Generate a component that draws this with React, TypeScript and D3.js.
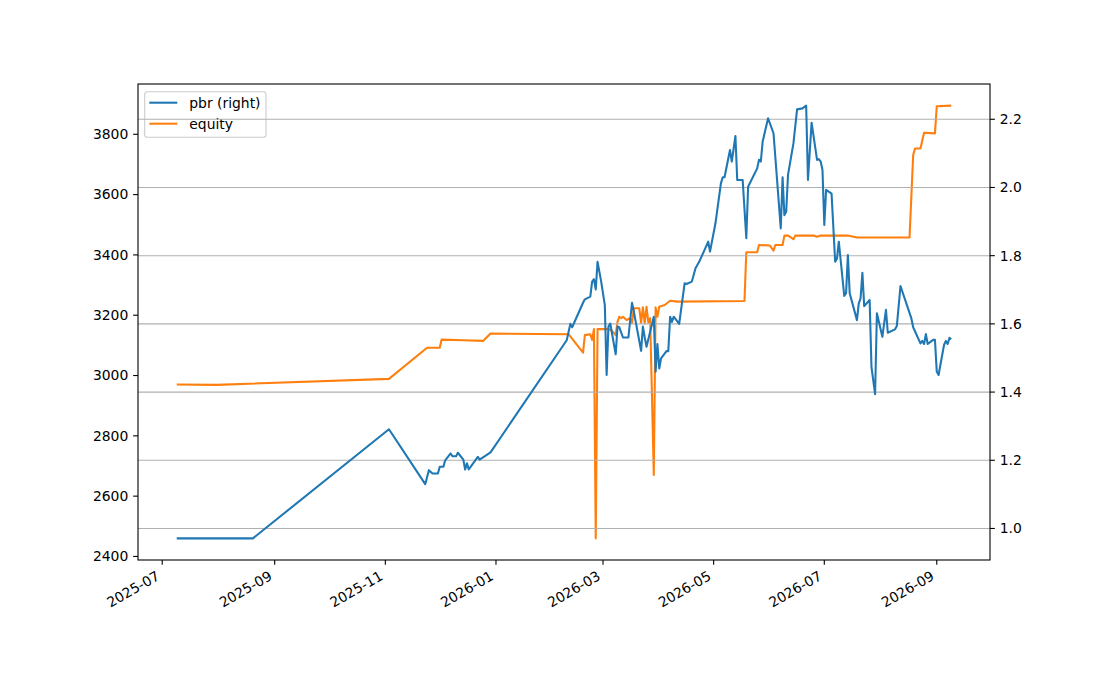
import * as d3 from "d3";

const pbrDates = [
  "2025-07-09", "2025-08-20", "2025-11-03", "2025-11-23", "2025-11-25", "2025-11-27",
  "2025-11-30", "2025-12-01", "2025-12-03", "2025-12-04", "2025-12-07", "2025-12-08",
  "2025-12-10", "2025-12-11", "2025-12-14", "2025-12-15", "2025-12-16", "2025-12-17",
  "2025-12-22", "2025-12-23", "2025-12-29", "2026-02-09", "2026-02-11", "2026-02-12",
  "2026-02-18", "2026-02-19", "2026-02-22", "2026-02-23", "2026-02-24", "2026-02-25",
  "2026-02-26", "2026-02-28", "2026-03-02", "2026-03-03", "2026-03-04", "2026-03-05",
  "2026-03-08", "2026-03-09", "2026-03-10", "2026-03-12", "2026-03-15", "2026-03-17",
  "2026-03-18", "2026-03-22", "2026-03-23", "2026-03-24", "2026-03-25", "2026-03-29",
  "2026-03-30", "2026-03-31", "2026-04-01", "2026-04-02", "2026-04-05", "2026-04-06",
  "2026-04-07", "2026-04-08", "2026-04-09", "2026-04-12", "2026-04-15", "2026-04-16",
  "2026-04-19", "2026-04-21", "2026-04-23", "2026-04-26", "2026-04-28", "2026-04-29",
  "2026-05-02", "2026-05-05", "2026-05-06", "2026-05-07", "2026-05-10", "2026-05-11",
  "2026-05-13", "2026-05-14", "2026-05-17", "2026-05-19", "2026-05-20", "2026-05-25",
  "2026-05-26", "2026-05-27", "2026-05-28", "2026-05-31", "2026-06-03", "2026-06-07",
  "2026-06-08", "2026-06-09", "2026-06-10", "2026-06-11", "2026-06-14", "2026-06-16",
  "2026-06-19", "2026-06-21", "2026-06-22", "2026-06-24", "2026-06-27", "2026-06-28",
  "2026-06-29", "2026-06-30", "2026-07-01", "2026-07-02", "2026-07-05", "2026-07-07",
  "2026-07-08", "2026-07-09", "2026-07-12", "2026-07-13", "2026-07-14", "2026-07-15",
  "2026-07-19", "2026-07-20", "2026-07-21", "2026-07-22", "2026-07-23", "2026-07-26",
  "2026-07-27", "2026-07-29", "2026-07-30", "2026-08-02", "2026-08-04", "2026-08-05",
  "2026-08-09", "2026-08-10", "2026-08-12", "2026-08-18", "2026-08-19", "2026-08-23",
  "2026-08-24", "2026-08-25", "2026-08-26", "2026-08-27", "2026-08-30", "2026-08-31",
  "2026-09-01", "2026-09-02", "2026-09-05", "2026-09-06", "2026-09-07", "2026-09-08",
  "2026-09-09",
];

const pbrValues = [
  0.971, 0.971, 1.291, 1.13, 1.171, 1.161,
  1.161, 1.181, 1.181, 1.2, 1.22, 1.212,
  1.212, 1.222, 1.202, 1.173, 1.191, 1.173,
  1.21, 1.202, 1.223, 1.552, 1.6, 1.59,
  1.662, 1.672, 1.68, 1.724, 1.731, 1.701,
  1.782, 1.724, 1.655, 1.45, 1.592, 1.601,
  1.511, 1.592, 1.59, 1.56, 1.56, 1.662,
  1.636, 1.521, 1.592, 1.56, 1.533, 1.621,
  1.46, 1.541, 1.469, 1.499, 1.52, 1.52,
  1.621, 1.606, 1.621, 1.6, 1.719, 1.717,
  1.724, 1.763, 1.782, 1.817, 1.841, 1.812,
  1.895, 2.012, 2.03, 2.03, 2.11, 2.076,
  2.151, 2.022, 2.022, 1.851, 2.002, 2.056,
  2.081, 2.076, 2.134, 2.203, 2.159, 1.88,
  2.03, 1.919, 1.929, 2.037, 2.13, 2.229,
  2.232, 2.24, 2.022, 2.19, 2.081, 2.083,
  2.076, 2.051, 1.89, 1.993, 1.982, 1.782,
  1.792, 1.841, 1.682, 1.69, 1.802, 1.69,
  1.611, 1.66, 1.675, 1.75, 1.652, 1.67,
  1.474, 1.394, 1.631, 1.562, 1.641, 1.574,
  1.584, 1.594, 1.711, 1.616, 1.59, 1.543,
  1.55, 1.541, 1.57, 1.541, 1.553, 1.553,
  1.46, 1.45, 1.538, 1.55, 1.541, 1.559,
  1.555,
];

const equityDates = [
  "2025-07-09", "2025-07-31", "2025-11-03", "2025-11-24", "2025-12-01", "2025-12-02",
  "2025-12-14", "2025-12-25", "2025-12-29", "2026-02-10", "2026-02-18", "2026-02-19",
  "2026-02-22", "2026-02-23", "2026-02-24", "2026-02-25", "2026-02-26", "2026-03-04",
  "2026-03-06", "2026-03-08", "2026-03-09", "2026-03-10", "2026-03-11", "2026-03-12",
  "2026-03-14", "2026-03-16", "2026-03-17", "2026-03-18", "2026-03-21", "2026-03-22",
  "2026-03-23", "2026-03-24", "2026-03-25", "2026-03-26", "2026-03-27", "2026-03-29",
  "2026-03-30", "2026-03-31", "2026-04-01", "2026-04-04", "2026-04-07", "2026-04-11",
  "2026-05-18", "2026-05-19", "2026-05-25", "2026-05-26", "2026-06-01", "2026-06-03",
  "2026-06-04", "2026-06-08", "2026-06-09", "2026-06-11", "2026-06-14", "2026-06-15",
  "2026-06-25", "2026-06-27", "2026-06-29", "2026-07-14", "2026-07-19", "2026-08-17",
  "2026-08-19", "2026-08-20", "2026-08-23", "2026-08-25", "2026-08-31", "2026-09-01",
  "2026-09-09",
];

const equityValues = [
  2970, 2969, 2989, 3092, 3092, 3119,
  3117, 3115, 3139, 3137, 3076, 3134,
  3137, 3118, 3154, 2460, 3154, 3154,
  3148, 3134, 3179, 3195, 3190, 3195,
  3184, 3190, 3173, 3223, 3223, 3175,
  3226, 3173, 3228, 3175, 3190, 2670,
  3226, 3195, 3228, 3234, 3248, 3245,
  3247, 3409, 3409, 3433, 3431, 3414,
  3433, 3433, 3464, 3464, 3452, 3464,
  3464, 3460, 3464, 3464, 3458, 3458,
  3731, 3753, 3753, 3805, 3803, 3893,
  3895,
];

const leftTicks = [2400, 2600, 2800, 3000, 3200, 3400, 3600, 3800];
const rightTicks = [1.0, 1.2, 1.4, 1.6, 1.8, 2.0, 2.2];
const xTickLabels = ["2025-07", "2025-09", "2025-11", "2026-01", "2026-03", "2026-05", "2026-07", "2026-09"];
const legendLabels = ["pbr (right)", "equity"];

const W = 1100;
const H = 700;
const margin = { left: 138, right: 990, top: 84, bottom: 560 };
const FONT = "'DejaVu Sans', sans-serif";
const FS = 13.9;
const BLUE = "#1f77b4";
const ORANGE = "#ff7f0e";
const TICK = 4.86;

const parse = d3.timeParse("%Y-%m-%d");
const parseMonth = d3.timeParse("%Y-%m");

function padded(lo: number, hi: number): [number, number] {
  const p = (hi - lo) * 0.05;
  return [lo - p, hi + p];
}

export default function App() {
  const pbr = pbrDates.map((d, i) => ({ date: parse(d)!, value: pbrValues[i] }));
  const equity = equityDates.map((d, i) => ({ date: parse(d)!, value: equityValues[i] }));

  const allDates = [...pbr, ...equity].map((d) => +d.date);
  const [t0, t1] = padded(d3.min(allDates)!, d3.max(allDates)!);
  const x = d3.scaleTime().domain([new Date(t0), new Date(t1)]).range([margin.left, margin.right]);

  const yLeft = d3
    .scaleLinear()
    .domain(padded(d3.min(equityValues)!, d3.max(equityValues)!))
    .range([margin.bottom, margin.top]);
  const yRight = d3
    .scaleLinear()
    .domain(padded(d3.min(pbrValues)!, d3.max(pbrValues)!))
    .range([margin.bottom, margin.top]);

  const lineLeft = d3
    .line<{ date: Date; value: number }>()
    .x((d) => x(d.date))
    .y((d) => yLeft(d.value));
  const lineRight = d3
    .line<{ date: Date; value: number }>()
    .x((d) => x(d.date))
    .y((d) => yRight(d.value));

  const fmtRight = d3.format(".1f");

  return (
    <div style={{ position: "absolute", left: 0, top: 0, width: W, height: H, background: "#fff" }}>
      <svg width={W} height={H} style={{ display: "block" }} fontFamily={FONT}>
        <rect x={0} y={0} width={W} height={H} fill="#fff" />

        {/* equity on the left axis */}
        <path
          d={lineLeft(equity) || ""}
          fill="none"
          stroke={ORANGE}
          strokeWidth={2.08}
          strokeLinejoin="round"
        />

        {/* legend */}
        <g>
          <rect
            x={144.7}
            y={91.7}
            width={121.3}
            height={45.6}
            rx={2.8}
            fill="#fff"
            fillOpacity={0.8}
            stroke="#cccccc"
            strokeWidth={1.1}
          />
          {legendLabels.map((label, i) => (
            <g key={label}>
              <line
                x1={149.3}
                x2={177.3}
                y1={102.7 + i * 21}
                y2={102.7 + i * 21}
                stroke={i === 0 ? BLUE : ORANGE}
                strokeWidth={2.08}
              />
              <text x={189.3} y={102.7 + i * 21} dy="0.35em" fontSize={FS} fill="#000">
                {label}
              </text>
            </g>
          ))}
        </g>

        {/* grid of the right axis */}
        {rightTicks.map((t) => (
          <line
            key={`g${t}`}
            x1={margin.left}
            x2={margin.right}
            y1={yRight(t)}
            y2={yRight(t)}
            stroke="#b0b0b0"
            strokeWidth={1.1}
          />
        ))}

        {/* pbr on the right axis */}
        <path
          d={lineRight(pbr) || ""}
          fill="none"
          stroke={BLUE}
          strokeWidth={2.08}
          strokeLinejoin="round"
        />

        {/* frame */}
        <rect
          x={margin.left}
          y={margin.top}
          width={margin.right - margin.left}
          height={margin.bottom - margin.top}
          fill="none"
          stroke="#000"
          strokeWidth={1.1}
        />

        {/* left axis */}
        {leftTicks.map((t) => (
          <g key={`l${t}`} transform={`translate(${margin.left},${yLeft(t)})`}>
            <line x1={-TICK} x2={0} stroke="#000" strokeWidth={1.1} />
            <text x={-TICK - 4.86} dy="0.35em" textAnchor="end" fontSize={FS} fill="#000">
              {t}
            </text>
          </g>
        ))}

        {/* right axis */}
        {rightTicks.map((t) => (
          <g key={`r${t}`} transform={`translate(${margin.right},${yRight(t)})`}>
            <line x1={0} x2={TICK} stroke="#000" strokeWidth={1.1} />
            <text x={TICK + 4.86} dy="0.35em" textAnchor="start" fontSize={FS} fill="#000">
              {fmtRight(t)}
            </text>
          </g>
        ))}

        {/* x axis */}
        {xTickLabels.map((lab) => {
          const tx = x(parseMonth(lab)!);
          return (
            <g key={lab}>
              <line
                x1={tx}
                x2={tx}
                y1={margin.bottom}
                y2={margin.bottom + TICK}
                stroke="#000"
                strokeWidth={1.1}
              />
              <text
                transform={`translate(${tx - 1.5},${578.8}) rotate(-30)`}
                textAnchor="end"
                fontSize={FS}
                fill="#000"
              >
                {lab}
              </text>
            </g>
          );
        })}
      </svg>
    </div>
  );
}
